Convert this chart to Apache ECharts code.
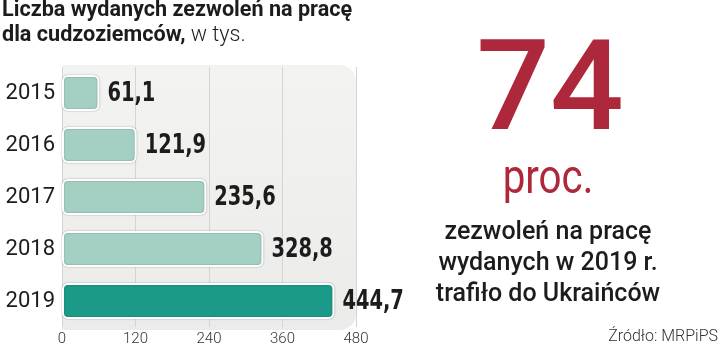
<!DOCTYPE html>
<html>
<head>
<meta charset="utf-8">
<script src="https://cdn.jsdelivr.net/npm/echarts@6/dist/echarts.min.js"></script>
<style>
  html, body { margin: 0; padding: 0; background: #ffffff; }
  #chart { width: 720px; height: 348px; }
</style>
</head>
<body>
<div id="chart"></div>
<script>
// Work permits issued to foreigners, thousands
const years = ['2015', '2016', '2017', '2018', '2019'];
const permits = [61.1, 121.9, 235.6, 328.8, 444.7];
const axisTicks = [0, 120, 240, 360, 480];

const lightBar = '#a4d0c3';
const darkBar = '#1b9a89';
const red = '#ad283b';
const ink = '#1c1c1c';
const condensed = 'DejaVu Sans Condensed, Liberation Sans Narrow, Roboto';

const chart = echarts.init(document.getElementById('chart'), null, { renderer: 'canvas' });

const fmt = v => v.toFixed(1).replace('.', ',');

const option = {
  animation: false,
  backgroundColor: '#ffffff',
  grid: { left: 62, right: 364, top: 67, bottom: 21, containLabel: false },
  xAxis: {
    type: 'value',
    min: axisTicks[0],
    max: axisTicks[axisTicks.length - 1],
    interval: axisTicks[1] - axisTicks[0],
    axisLine: { show: false },
    axisTick: { show: false },
    axisLabel: {
      margin: 5,
      fontFamily: 'Roboto', fontWeight: 300, fontSize: 15, color: '#333333',
      formatter: v => String(v)
    },
    splitLine: {
      show: true,
      lineStyle: { color: '#d4d4d2', width: 1 }
    }
  },
  yAxis: {
    type: 'category',
    data: years,
    inverse: true,
    axisLine: { show: false },
    axisTick: { show: false },
    axisLabel: {
      margin: 7,
      fontFamily: 'Roboto', fontSize: 22, color: ink
    }
  },
  series: [
    {
      type: 'bar',
      barWidth: '69%',
      data: permits.map((v, i) => ({
        value: v,
        itemStyle: { color: i === permits.length - 1 ? darkBar : lightBar }
      })),
      itemStyle: {
        borderColor: '#ffffff',
        borderWidth: 2,
        borderRadius: 5,
        shadowColor: 'rgba(0,0,0,0.28)',
        shadowBlur: 2
      }
    },
    {
      // value labels in a narrow bold face, placed just past each bar end
      type: 'custom',
      silent: true,
      data: permits.map((v, i) => [v, i]),
      renderItem: (params, api) => {
        const pt = api.coord([api.value(0), api.value(1)]);
        return {
          type: 'text',
          x: pt[0] + 8,
          y: pt[1] + 1,
          scaleX: 0.8,
          style: {
            text: fmt(api.value(0)),
            fill: ink,
            fontFamily: condensed,
            fontWeight: 'bold',
            fontSize: 27,
            align: 'left',
            verticalAlign: 'middle'
          }
        };
      },
      z: 5
    }
  ],
  graphic: [
    {
      id: 'heading', type: 'text', left: 2, top: 0,
      style: {
        text: '{b|Liczba wydanych zezwoleń na pracę}\n{b|dla cudzoziemców,}{r| w tys.}',
        rich: {
          b: { fontFamily: 'Roboto', fontWeight: 'bold', fontSize: 21.6, fill: ink, lineHeight: 24.5 },
          r: { fontFamily: 'Roboto', fontWeight: 300, fontSize: 21.6, fill: ink, lineHeight: 24.5 }
        }
      }
    },
    {
      id: 'share', type: 'text', x: 550, y: 97, scaleX: 1.03,
      style: {
        text: '74', fill: red,
        fontFamily: 'Roboto', fontWeight: 500, fontSize: 126,
        align: 'center', verticalAlign: 'middle'
      }
    },
    {
      id: 'unit', type: 'text', x: 548, y: 181, scaleX: 0.84,
      style: {
        text: 'proc.', fill: red,
        fontFamily: 'Roboto', fontWeight: 'normal', fontSize: 48,
        align: 'center', verticalAlign: 'middle'
      }
    },
    {
      id: 'note', type: 'text', x: 548, y: 217,
      style: {
        text: 'zezwoleń na pracę\nwydanych w 2019 r.\ntrafiło do Ukraińców',
        fill: ink,
        fontFamily: 'Roboto', fontWeight: 500, fontSize: 25, lineHeight: 31,
        align: 'center', verticalAlign: 'top'
      }
    },
    {
      id: 'source', type: 'text', x: 718, y: 337,
      style: {
        text: 'Źródło: MRPiPS', fill: '#333333',
        fontFamily: 'Roboto', fontWeight: 300, fontSize: 16,
        align: 'right', verticalAlign: 'middle'
      }
    }
  ]
};

chart.setOption(option);

// Rounded grey panel behind the plotting area, sized from the axis scale
const x0 = chart.convertToPixel({ xAxisIndex: 0 }, axisTicks[0]);
const x1 = chart.convertToPixel({ xAxisIndex: 0 }, axisTicks[axisTicks.length - 1]);
const gridRect = chart.getModel().getComponent('grid', 0).coordinateSystem.getRect();
chart.setOption({
  graphic: [{
    id: 'panel',
    type: 'rect',
    z: -10,
    silent: true,
    shape: { x: x0, y: gridRect.y - 2, width: x1 - x0, height: gridRect.height + 5, r: [0, 16, 16, 0] },
    style: {
      fill: new echarts.graphic.LinearGradient(0, 0, 0, 1, [
        { offset: 0, color: '#f3f3f1' },
        { offset: 1, color: '#ebebe9' }
      ])
    }
  }]
});
</script>
</body>
</html>
